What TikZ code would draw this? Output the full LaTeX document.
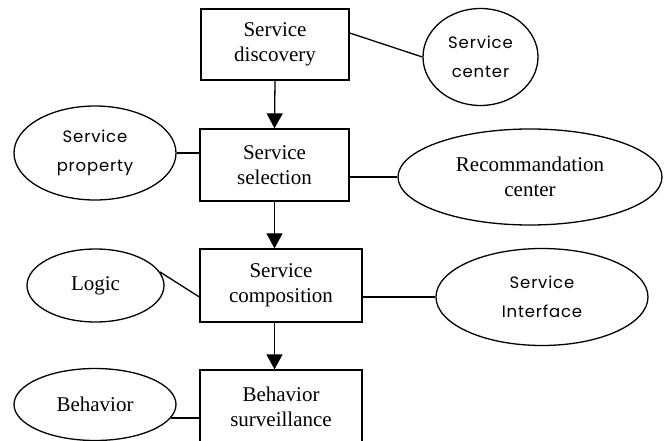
\documentclass[tikz,border=0pt]{standalone}
\usepackage{fontspec}
\setmainfont{Liberation Serif}
\newfontfamily\roundsans[LetterSpace=5]{Poppins}
\usetikzlibrary{shapes.geometric,arrows.meta}
\tikzset{
  stagebox/.style={draw,line width=1.3pt,rectangle,inner sep=0pt,align=center,
    font=\fontsize{21}{25}\selectfont},
  oval/.style={draw,line width=1.3pt,ellipse,inner sep=0pt,align=center,
    font=\fontsize{21}{25}\selectfont},
  sansoval/.style={oval,font=\roundsans\fontsize{16.5}{29}\selectfont},
  link/.style={line width=1.3pt},
  flow/.style={line width=1.3pt,-{Triangle[width=16pt,length=15pt]}}
}
\begin{document}
\begin{tikzpicture}[x=1pt,y=-1pt]
\useasboundingbox (0,0) rectangle (665,441);
\clip (0,0) rectangle (665,441);
% process boxes
\node[stagebox,minimum width=148pt,minimum height=71pt] (b1) at (275,44.5) {Service\\discovery};
\node[stagebox,minimum width=149pt,minimum height=72pt] (b2) at (274.5,165) {Service\\selection};
\node[stagebox,minimum width=162pt,minimum height=73pt] (b3) at (281,285.5) {Service\\composition};
\node[stagebox,minimum width=162pt,minimum height=74pt] (b4) at (281,407) {Behavior\\surveillance};
% ellipses
\node[sansoval,minimum width=115pt,minimum height=97pt] (sc) at (480.5,57) {Service\\center};
\node[sansoval,minimum width=162pt,minimum height=94pt] (sp) at (95,153) {Service\\property};
\node[oval,minimum width=264pt,minimum height=96pt] (rc) at (530,177) {Recommandation\\center};
\node[oval,minimum width=137pt,minimum height=73pt] (lo) at (95.5,285.5) {Logic};
\node[sansoval,minimum width=212pt,minimum height=97pt] (si) at (542,297) {Service\\Interface};
\node[oval,minimum width=162pt,minimum height=72pt] (be) at (95,404.5) {Behavior};
% flow arrows
\coordinate (a2s) at (b2.south |- b3.south);
\draw[flow] (b1.south) -- (b2.north);
\draw[flow] (b2.south) -- (b2.south |- b3.north);
\draw[flow] (a2s) -- (b2.south |- b4.north);
% links
\draw[link] ([yshift=11.5pt]b1.east) -- (sc.west);
\draw[link] (sp.east) -- (sp.east -| b2.west);
\draw[link] (rc.west -| b2.east) -- (rc.west);
\draw[link] (lo.12) -- ([yshift=-11.5pt]b3.west);
\draw[link] (si.west -| b3.east) -- (si.west);
\draw[link] (be.-10) -- (be.-10 -| b4.west);
\end{tikzpicture}
\end{document}
